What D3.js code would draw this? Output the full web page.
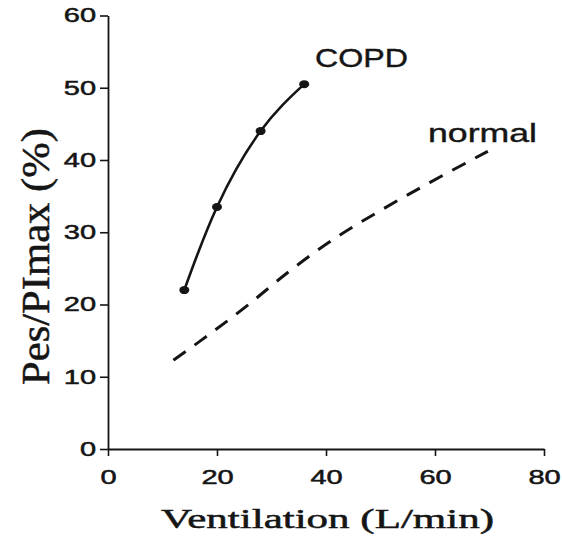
<!DOCTYPE html>
<html>
<head>
<meta charset="utf-8">
<script src="https://cdn.jsdelivr.net/npm/d3@7"></script>
<style>
  html, body { margin: 0; padding: 0; background: #fff; }
  svg { display: block; }
</style>
</head>
<body>
<svg id="chart" width="562" height="545"></svg>
<script>
// Respiratory effort (Pes/PImax) against minute ventilation
const xTicks = [0, 20, 40, 60, 80];
const yTicks = [0, 10, 20, 30, 40, 50, 60];

const copdVent = [14, 20, 28, 36];
const copdPes  = [22, 33.5, 44, 50.5];

const normalVent = [12, 17.2, 25.3, 33.1, 41.3, 50.2, 59.1, 69.7];
const normalPes  = [12.3, 15.1, 19.7, 24.5, 29.0, 33.1, 36.9, 41.2];

const seriesNames = ["COPD", "normal"];
const xTitle = "Ventilation (L/min)";
const yTitle = "Pes/PImax (%)";

const svg = d3.select("#chart");
const W = 562, H = 545;
const margin = { top: 15.5, right: 18, bottom: 96, left: 108 };

svg.append("rect").attr("width", W).attr("height", H).attr("fill", "#fff");

const x = d3.scaleLinear().domain([0, 80]).range([margin.left, W - margin.right]);
const y = d3.scaleLinear().domain([0, 60]).range([H - margin.bottom, margin.top]);

const ink = "#151515";
const sans = "'Liberation Sans', Arial, Helvetica, sans-serif";
const serif = "'Liberation Serif', 'Times New Roman', Times, serif";

// widen text along its baseline by a factor
function stretch(sel, factor) {
  sel.each(function () {
    const w = this.getComputedTextLength();
    d3.select(this).attr("textLength", w * factor).attr("lengthAdjust", "spacingAndGlyphs");
  });
}

// slightly heavier glyphs, like a printed figure
function inked(sel, w) {
  sel.attr("fill", ink).attr("stroke", ink).attr("stroke-width", w).attr("paint-order", "stroke");
}

// axes
const xAxis = svg.append("g")
  .attr("transform", `translate(0,${y(0)})`)
  .call(d3.axisBottom(x).tickValues(xTicks).tickFormat(d3.format("d"))
    .tickSize(7).tickSizeOuter(0).tickPadding(14));
const yAxis = svg.append("g")
  .attr("transform", `translate(${x(0)},0)`)
  .call(d3.axisLeft(y).tickValues(yTicks).tickFormat(d3.format("d"))
    .tickSize(8).tickSizeOuter(0).tickPadding(4));

[xAxis, yAxis].forEach(g => {
  g.select(".domain").attr("stroke", ink).attr("stroke-width", 1.8);
  g.selectAll(".tick line").attr("stroke", ink).attr("stroke-width", 1.6);
  const t = g.selectAll(".tick text")
    .style("font-family", sans)
    .style("font-size", "20px");
  inked(t, 0.5);
  stretch(t, 1.45);
});

// axis titles
const xt = svg.append("text")
  .attr("x", 327.5).attr("y", 528)
  .attr("text-anchor", "middle")
  .style("font-family", serif)
  .style("font-size", "28px")
  .text(xTitle);
inked(xt, 0.5);
xt.attr("textLength", 333).attr("lengthAdjust", "spacingAndGlyphs");

const yt = svg.append("text")
  .attr("transform", `translate(49,256.5) rotate(-90)`)
  .attr("text-anchor", "middle")
  .style("font-family", serif)
  .style("font-size", "41px")
  .text(yTitle);
inked(yt, 0.5);
yt.attr("textLength", 257).attr("lengthAdjust", "spacingAndGlyphs");

// series
const copd = copdVent.map((v, i) => ({ v, p: copdPes[i] }));
const normal = normalVent.map((v, i) => ({ v, p: normalPes[i] }));

const line = d3.line().x(d => x(d.v)).y(d => y(d.p)).curve(d3.curveMonotoneX);

svg.append("path")
  .datum(normal)
  .attr("d", line)
  .attr("fill", "none")
  .attr("stroke", ink)
  .attr("stroke-width", 3)
  .attr("stroke-dasharray", "15,11");

svg.append("path")
  .datum(copd)
  .attr("d", line.curve(d3.curveNatural))
  .attr("fill", "none")
  .attr("stroke", ink)
  .attr("stroke-width", 2.6);

svg.selectAll("ellipse.copd")
  .data(copd)
  .join("ellipse")
  .attr("class", "copd")
  .attr("cx", d => x(d.v))
  .attr("cy", d => y(d.p))
  .attr("rx", 5)
  .attr("ry", 4)
  .attr("fill", ink);

// series labels
const lab1 = svg.append("text")
  .attr("x", 315).attr("y", 67)
  .style("font-family", sans)
  .style("font-size", "25px")
  .text(seriesNames[0]);
inked(lab1, 0.4);
lab1.attr("textLength", 93).attr("lengthAdjust", "spacingAndGlyphs");

const lab2 = svg.append("text")
  .attr("x", 428).attr("y", 142)
  .style("font-family", sans)
  .style("font-size", "26px")
  .text(seriesNames[1]);
inked(lab2, 0.4);
lab2.attr("textLength", 109).attr("lengthAdjust", "spacingAndGlyphs");
</script>
</body>
</html>
